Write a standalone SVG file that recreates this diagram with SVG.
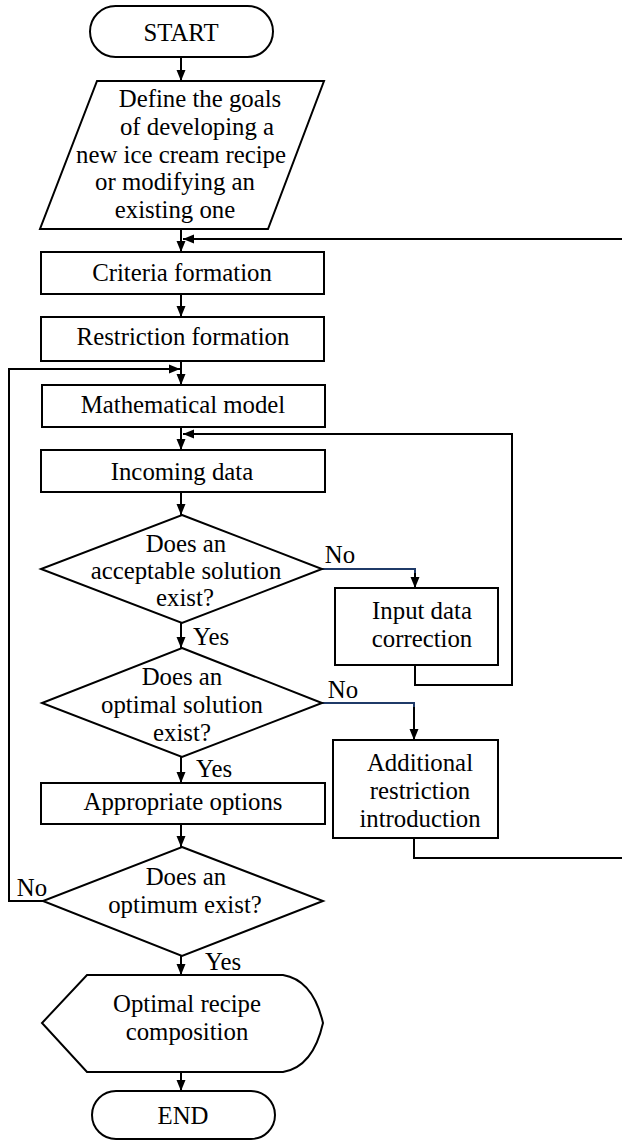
<svg xmlns="http://www.w3.org/2000/svg" width="622" height="1141" viewBox="0 0 622 1141">
<defs>
<style>
.s{fill:#fff;stroke:#000;stroke-width:2}
.c{fill:none;stroke:#000;stroke-width:2}
.b{fill:none;stroke:#1f3a68;stroke-width:2}
text{font-family:"Liberation Serif","Times New Roman",serif;font-size:24.8px;fill:#000;text-anchor:middle}
</style>
<marker id="ar" markerUnits="userSpaceOnUse" markerWidth="12" markerHeight="10" refX="11" refY="5" orient="auto" viewBox="0 0 12 10">
<path d="M0,0.5 L11,5 L0,9.5 Z" fill="#000"/>
</marker>
</defs>
<g id="connectors">
<line class="c" x1="181" y1="57" x2="181" y2="81" marker-end="url(#ar)"/>
<line class="c" x1="181" y1="229" x2="181" y2="252" marker-end="url(#ar)"/>
<line class="c" x1="622" y1="239" x2="183" y2="239" marker-end="url(#ar)"/>
<line class="c" x1="181" y1="294" x2="181" y2="317" marker-end="url(#ar)"/>
<line class="c" x1="181" y1="361" x2="181" y2="385" marker-end="url(#ar)"/>
<polyline class="c" points="43,901 9,901 9,369 180,369" marker-end="url(#ar)"/>
<line class="c" x1="181" y1="427" x2="181" y2="450" marker-end="url(#ar)"/>
<polyline class="c" points="415,665 415,685 512,685 512,434 183,434" marker-end="url(#ar)"/>
<line class="c" x1="181" y1="492" x2="181" y2="515" marker-end="url(#ar)"/>
<polyline class="b" points="322,569 415,569 415,574"/>
<line class="c" x1="415" y1="573" x2="415" y2="588" marker-end="url(#ar)"/>
<line class="c" x1="181" y1="623" x2="181" y2="648" marker-end="url(#ar)"/>
<polyline class="b" points="322,703 414,703 414,708"/>
<line class="c" x1="414" y1="707" x2="414" y2="740" marker-end="url(#ar)"/>
<polyline class="c" points="414,838 414,858 622,858"/>
<line class="c" x1="181" y1="757" x2="181" y2="783" marker-end="url(#ar)"/>
<line class="c" x1="181" y1="824" x2="181" y2="847" marker-end="url(#ar)"/>
<line class="c" x1="181" y1="956" x2="181" y2="975" marker-end="url(#ar)"/>
<line class="c" x1="181" y1="1072" x2="181" y2="1091" marker-end="url(#ar)"/>
</g>
<g id="labels">
<text x="340" y="563">No</text>
<text x="211" y="645">Yes</text>
<text x="343" y="698">No</text>
<text x="214" y="777">Yes</text>
<text x="32" y="896">No</text>
<text x="223" y="970">Yes</text>
</g>
<g id="start">
<rect class="s" x="90" y="6" width="183" height="51" rx="25.5"/>
<text x="181" y="41">START</text>
</g>
<g id="goals">
<polygon class="s" points="97,81 324,81 268,229 40,229"/>
<text x="200" y="107">Define the goals</text>
<text x="197" y="135">of developing a</text>
<text x="181" y="163">new ice cream recipe</text>
<text x="175" y="190">or modifying an</text>
<text x="175" y="218">existing one</text>
</g>
<g id="criteria">
<rect class="s" x="41" y="252" width="283" height="42"/>
<text x="182" y="281">Criteria formation</text>
</g>
<g id="restriction">
<rect class="s" x="41" y="317" width="283" height="44"/>
<text x="183" y="345">Restriction formation</text>
</g>
<g id="model">
<rect class="s" x="42" y="385" width="283" height="42"/>
<text x="183" y="413">Mathematical model</text>
</g>
<g id="incoming">
<rect class="s" x="41" y="450" width="284" height="42"/>
<text x="182" y="480">Incoming data</text>
</g>
<g id="acceptable">
<polygon class="s" points="182,515 322,569 182,623 41,569"/>
<text x="186" y="552">Does an</text>
<text x="186" y="579">acceptable solution</text>
<text x="185" y="606">exist?</text>
</g>
<g id="correction">
<rect class="s" x="335" y="588" width="163" height="77"/>
<text x="422" y="619">Input data</text>
<text x="422" y="647">correction</text>
</g>
<g id="optimal">
<polygon class="s" points="182,648 322,703 182,757 42,703"/>
<text x="182" y="685">Does an</text>
<text x="182" y="713">optimal solution</text>
<text x="182" y="741">exist?</text>
</g>
<g id="additional">
<rect class="s" x="333" y="740" width="165" height="98"/>
<text x="420" y="771">Additional</text>
<text x="420" y="799">restriction</text>
<text x="420" y="827">introduction</text>
</g>
<g id="options">
<rect class="s" x="41" y="783" width="284" height="41"/>
<text x="183" y="810">Appropriate options</text>
</g>
<g id="optimum">
<polygon class="s" points="182,847 323,901 182,956 43,901"/>
<text x="186" y="885">Does an</text>
<text x="185" y="913">optimum exist?</text>
</g>
<g id="composition">
<path class="s" d="M87,975 L283,975 Q313,980 323,1023 Q313,1067 283,1072 L87,1072 L42,1023 Z"/>
<text x="187" y="1012">Optimal recipe</text>
<text x="187" y="1040">composition</text>
</g>
<g id="end">
<rect class="s" x="92" y="1091" width="183" height="48" rx="24"/>
<text x="183" y="1124">END</text>
</g>
</svg>
